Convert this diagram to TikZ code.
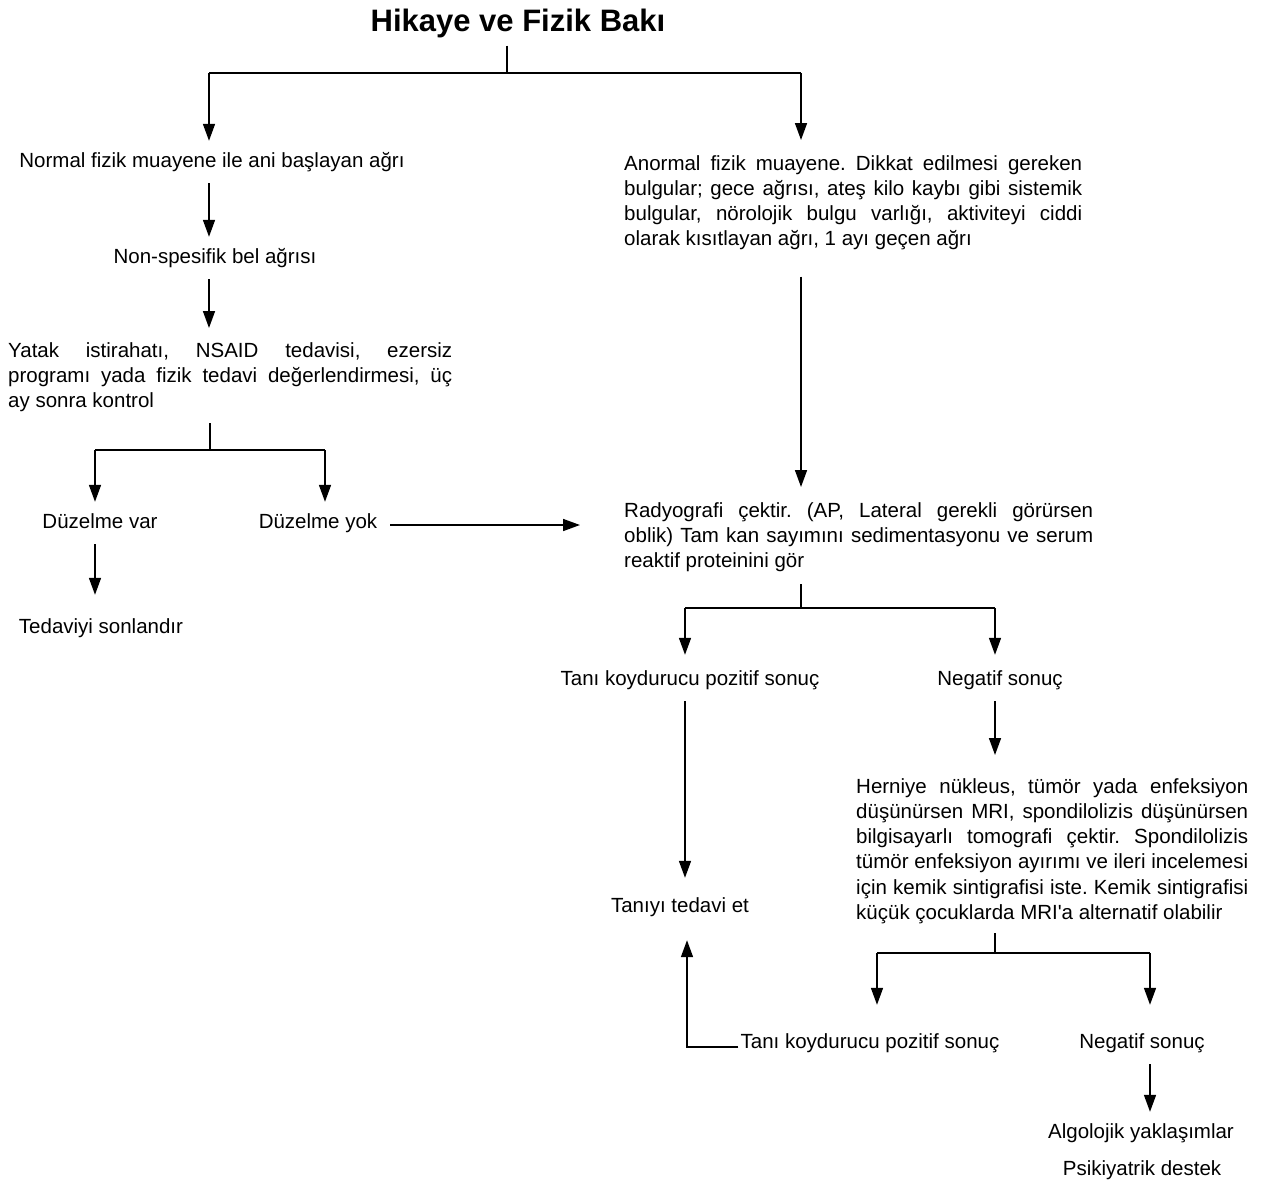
\documentclass[tikz,border=0pt]{standalone}
\usepackage{fontspec}
\newfontfamily\bodyf{Liberation Sans}
\usetikzlibrary{arrows.meta,calc}
\begin{document}
\begin{tikzpicture}[x=1pt,y=-1pt,
  every node/.style={inner sep=0pt, font=\bodyf\fontsize{20.5}{25.3}\selectfont},
  lbl/.style={inner xsep=0pt, inner ysep=12pt, text height=14pt, text depth=4pt},
  blk/.style={anchor=north west, align=justify, inner sep=0pt},
  ln/.style={line width=1.6pt},
  arr/.style={line width=1.6pt, -{Triangle[width=12pt,length=17pt]}}]
\useasboundingbox (0,0) rectangle (1263,1184);
\hyphenpenalty=10000 \exhyphenpenalty=10000 \frenchspacing
% nodes
\node[font=\bodyf\bfseries\fontsize{31}{33}\selectfont, inner ysep=8pt] (title) at (518,23) {Hikaye ve Fizik Bakı};
\node[lbl] (normal) at (212,162) {Normal fizik muayene ile ani başlayan ağrı};
\node[lbl] (nonspec) at (215,258) {Non-spesifik bel ağrısı};
\node[blk, text width=444pt] (yatak) at (8,342) {\tolerance=9999\frenchspacing Yatak istirahatı, NSAID tedavisi, ezersiz\linebreak programı yada fizik tedavi değerlendirmesi, üç\linebreak ay sonra kontrol};
\node[lbl] (duzvar) at (100,523) {Düzelme var};
\node[lbl] (duzyok) at (318,523) {Düzelme yok};
\node[lbl] (tedsonl) at (101,628) {Tedaviyi sonlandır};
\node[blk, text width=458pt] (anormal) at (624,155) {\tolerance=9999\frenchspacing Anormal fizik muayene. Dikkat edilmesi gereken\linebreak bulgular; gece ağrısı, ateş kilo kaybı gibi sistemik\linebreak bulgular, nörolojik bulgu varlığı, aktiviteyi ciddi\linebreak olarak kısıtlayan ağrı, 1 ayı geçen ağrı};
\node[blk, text width=469pt] (radyo) at (624,502) {\tolerance=9999\frenchspacing Radyografi çektir. (AP, Lateral gerekli görürsen\linebreak oblik) Tam kan sayımını sedimentasyonu ve serum\linebreak reaktif proteinini gör};
\node[lbl] (tanip) at (690,680) {Tanı koydurucu pozitif sonuç};
\node[lbl] (neg1) at (1000,680) {Negatif sonuç};
\node[lbl] (tanited) at (680,907) {Tanıyı tedavi et};
\node[blk, text width=392pt] (herniye) at (856,778) {\tolerance=9999\frenchspacing Herniye nükleus, tümör yada enfeksiyon\linebreak düşünürsen MRI, spondilolizis düşünürsen\linebreak bilgisayarlı tomografi çektir. Spondilolizis\linebreak tümör enfeksiyon ayırımı ve ileri incelemesi\linebreak için kemik sintigrafisi iste. Kemik sintigrafisi\linebreak küçük çocuklarda MRI'a alternatif olabilir};
\node[lbl] (tanip2) at (870,1043) {Tanı koydurucu pozitif sonuç};
\node[lbl] (neg2) at (1142,1043) {Negatif sonuç};
\node[lbl] (algo) at (1141,1133) {Algolojik yaklaşımlar};
\node[lbl] (psik) at (1142,1170) {Psikiyatrik destek};
% junction coordinates
\coordinate (t0) at (507,73); \coordinate (tL) at (209,73); \coordinate (tR) at (801,73);
\coordinate (y0) at (210,450); \coordinate (yL) at (95,450); \coordinate (yR) at (325,450);
\coordinate (r0) at (801,608); \coordinate (rL) at (685,608); \coordinate (rR) at (995,608);
\coordinate (h0) at (995,953); \coordinate (hL) at (877,953); \coordinate (hR) at (1150,953);
% connectors
\draw[ln] (title.south -| t0) -- (t0);
\draw[ln] (tL) -- (tR);
\draw[arr] (tL) -- (tL |- normal.north);
\draw[arr] (tR) -- ($(tR |- anormal.north)+(0,-15)$);
\draw[arr] (normal.south -| tL) -- (tL |- nonspec.north);
\draw[arr] (nonspec.south -| tL) -- ($(tL |- yatak.north)+(0,-14)$);
\draw[ln] ($(yatak.south -| y0)+(0,11)$) -- (y0);
\draw[ln] (yL) -- (yR);
\draw[arr] (yL) -- (yL |- duzvar.north);
\draw[arr] (yR) -- (yR |- duzyok.north);
\draw[arr] (duzvar.south -| yL) -- ($(yL |- tedsonl.north)+(0,-12)$);
\draw[arr] ($(duzyok.east)+(13,2)$) -- ($(duzyok.east -| radyo.west)+(-44,2)$);
\draw[arr] ($(anormal.south -| tR)+(0,26)$) -- ($(tR |- radyo.north)+(0,-15)$);
\draw[ln] ($(radyo.south -| r0)+(0,12)$) -- (r0);
\draw[ln] (rL) -- (rR);
\draw[arr] (rL) -- ($(rL |- tanip.north)+(0,-4)$);
\draw[arr] (rR) -- ($(rR |- neg1.north)+(0,-4)$);
\draw[arr] (tanip.south -| rL) -- ($(rL |- tanited.north)+(0,-8)$);
\draw[arr] (neg1.south -| rR) -- ($(rR |- herniye.north)+(0,-23)$);
\draw[ln] ($(herniye.south -| h0)+(0,9)$) -- (h0);
\draw[ln] (hL) -- (hR);
\draw[arr] (hL) -- ($(hL |- tanip2.north)+(0,-17)$);
\draw[arr] (hR) -- ($(hR |- neg2.north)+(0,-17)$);
\draw[arr] ($(tanip2.west)+(-2,4)$) -| ($(tanited.south)+(7,12)$);
\draw[arr] (neg2.south -| hR) -- (hR |- algo.north);
\end{tikzpicture}
\end{document}
